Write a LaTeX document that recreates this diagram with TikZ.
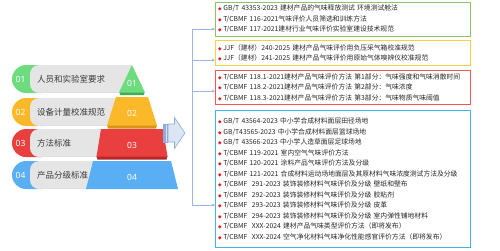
\documentclass[tikz,border=0pt]{standalone}
\usepackage{fontspec}
\newfontfamily\cjk{Noto Sans CJK SC}
\newfontfamily\numfont{Noto Sans}
\newfontfamily\symfont{DejaVu Sans}
\usetikzlibrary{arrows.meta}
\definecolor{capg}{HTML}{6CDC7E}
\definecolor{capy}{HTML}{FBB829}
\definecolor{capr}{HTML}{E9403F}
\definecolor{capb}{HTML}{5AAEF4}
\definecolor{darkg}{HTML}{3FAE50}
\definecolor{darky}{HTML}{D9921A}
\definecolor{darkr}{HTML}{B8282A}
\definecolor{barg}{HTML}{E5E5E5}
\definecolor{labtxt}{HTML}{3A3A3A}
\definecolor{bdg}{HTML}{8EC466}
\definecolor{bdy}{HTML}{FFCF3F}
\definecolor{bdr}{HTML}{F25656}
\definecolor{bdb}{HTML}{3DB6EA}
\definecolor{bulred}{HTML}{E8101A}
\definecolor{conn}{HTML}{9DB5E0}
\definecolor{arrfill}{HTML}{DCE5F3}
\definecolor{arrdraw}{HTML}{8FAADC}
\newcommand{\bul}{\makebox[5.2pt][l]{\textcolor{bulred}{\symfont\fontsize{4.6}{4.6}\selectfont ◆}}}
\tikzset{
  stdbox/.style={draw=#1, line width=1.3pt, minimum width=255pt, text width=250pt,
    inner xsep=2.5pt, inner ysep=0pt, align=left, anchor=north west, text=black!85,
    font=\cjk\fontsize{6.8}{10.5}\selectfont},
  capnum/.style={text=white, font=\numfont\bfseries\fontsize{8.5}{9}\selectfont, inner sep=0pt},
  lab/.style={text=labtxt, font=\cjk\fontsize{8.5}{9}\selectfont, anchor=west, inner sep=0pt},
  link/.style={draw=conn, line width=0.8pt},
  linkarrow/.style={link, -{Stealth[length=3.2pt,width=3.2pt]}}
}
\begin{document}
\begin{tikzpicture}[x=1pt,y=-1pt]
\useasboundingbox (0,0) rectangle (500,250);
% left rows
\foreach \c/\col/\n/\lab [count=\i] in {79/capg/01/人员和实验室要求,112/capy/02/设备计量校准规范,143/capr/03/方法标准,175/capb/04/产品分级标准}{
  \fill[\col, rounded corners=14pt] (12,\c-14) rectangle (56,\c+14);
  \fill[barg] (40,\c-14) rectangle (132,\c+14);
  \fill[barg, rounded corners=9pt] (30,\c-14) rectangle (52,\c+14);
  \fill[black!12] (40,\c+13.2) rectangle (132,\c+14);
  \node[capnum] (num\i) at (20.5,\c) {\n};
  \node[lab] (lab\i) at (37,\c) {\lab};
}
% pyramid
\fill[darkg] (119.5,92) -- (144.5,92) -- (144,95) -- (120,95) -- cycle;
\fill[capg] (132,65) -- (145,92.5) -- (119,92.5) -- cycle;
\fill[darky] (107,125) -- (157,125) -- (156,128.5) -- (108,128.5) -- cycle;
\fill[capy] (116,97) -- (148,97) -- (157,125.5) -- (107,125.5) -- cycle;
\fill[darkr] (96.5,156) -- (167.5,156) -- (166.5,159.5) -- (97.5,159.5) -- cycle;
\fill[capr] (101,129) -- (163,129) -- (167.5,156.5) -- (96.5,156.5) -- cycle;
\fill[capb] (93,161) -- (171,161) -- (178,189) -- (86,189) -- cycle;
\node[capnum] (p1) at (132,83) {01};
\node[capnum] (p2) at (132,113) {02};
\node[capnum] (p3) at (132,145) {03};
\node[capnum] (p4) at (132,177) {04};
% block arrow
\draw[arrdraw, fill=arrfill, line width=0.5pt] (163,124) rectangle (164.3,142);
\draw[arrdraw, fill=arrfill, line width=0.5pt] (165.5,124) rectangle (166.8,142);
\draw[arrdraw, fill=arrfill, line width=0.6pt] (168,124) -- (174.5,124) -- (174.5,117.5) -- (185,133) -- (174.5,148.5) -- (174.5,142) -- (168,142) -- cycle;
% boxes
\node[stdbox=bdg, minimum height=34pt] (g) at (215,1.5) {%
\bul GB/T 43353-2023 建材产品的气味释放测试 环境测试舱法\\
\bul T/CBMF 116-2021气味评价人员筛选和训练方法\\
\bul T/CBMF 117-2021建材行业气味评价实验室建设技术规范};
\node[stdbox=bdy, minimum height=25pt] (o) at (215,40) {%
\bul JJF（建材）240-2025 建材产品气味评价用负压采气箱校准规范\\
\bul JJF（建材）241-2025 建材产品气味评价用原始气体嗅辨仪校准规范};
\node[stdbox=bdr, minimum height=34pt] (r) at (215,70) {%
\bul T/CBMF 118.1-2021建材产品气味评价方法 第1部分：气味强度和气味消散时间\\
\bul T/CBMF 118.2-2021建材产品气味评价方法 第2部分：气味浓度\\
\bul T/CBMF 118.3-2021建材产品气味评价方法 第3部分：气味物质气味阈值};
\node[stdbox=bdb, minimum height=137pt] (b) at (215,110) {%
\bul GB/T 43564-2023 中小学合成材料面层田径场地\\
\bul GB/T43565-2023 中小学合成材料面层篮球场地\\
\bul GB/T 43566-2023 中小学人造草面层足球场地\\
\bul T/CBMF 119-2021 室内空气气味评价方法\\
\bul T/CBMF 120-2021 涂料产品气味评价方法及分级\\
\bul T/CBMF 121-2021 合成材料运动场地面层及其原材料气味浓度测试方法及分级\\
\bul T/CBMF\ \ 291-2023 装饰装修材料气味评价及分级 壁纸和壁布\\
\bul T/CBMF\ \ 292-2023 装饰装修材料气味评价及分级 胶粘剂\\
\bul T/CBMF\ \ 293-2023 装饰装修材料气味评价及分级 皮革\\
\bul T/CBMF\ \ 294-2023 装饰装修材料气味评价及分级 室内弹性铺地材料\\
\bul T/CBMF\ \ XXX-2024 建材产品气味类型评价方法（即将发布）\\
\bul T/CBMF\ \ XXX-2024 空气净化材料气味净化性能感官评价方法（即将发布）};
% connectors
\coordinate (s1) at (192,29);
\coordinate (s2) at (192,60);
\coordinate (s3) at (192,91);
\coordinate (s4) at (192,205);
\draw[link] (s1) -- (s4);
\draw[linkarrow] (s1) -- (s1 -| g.west);
\draw[linkarrow] (s2) -- (s2 -| o.west);
\draw[linkarrow] (s3) -- (s3 -| r.west);
\draw[linkarrow] (s4) -- (s4 -| b.west);
\end{tikzpicture}
\end{document}
